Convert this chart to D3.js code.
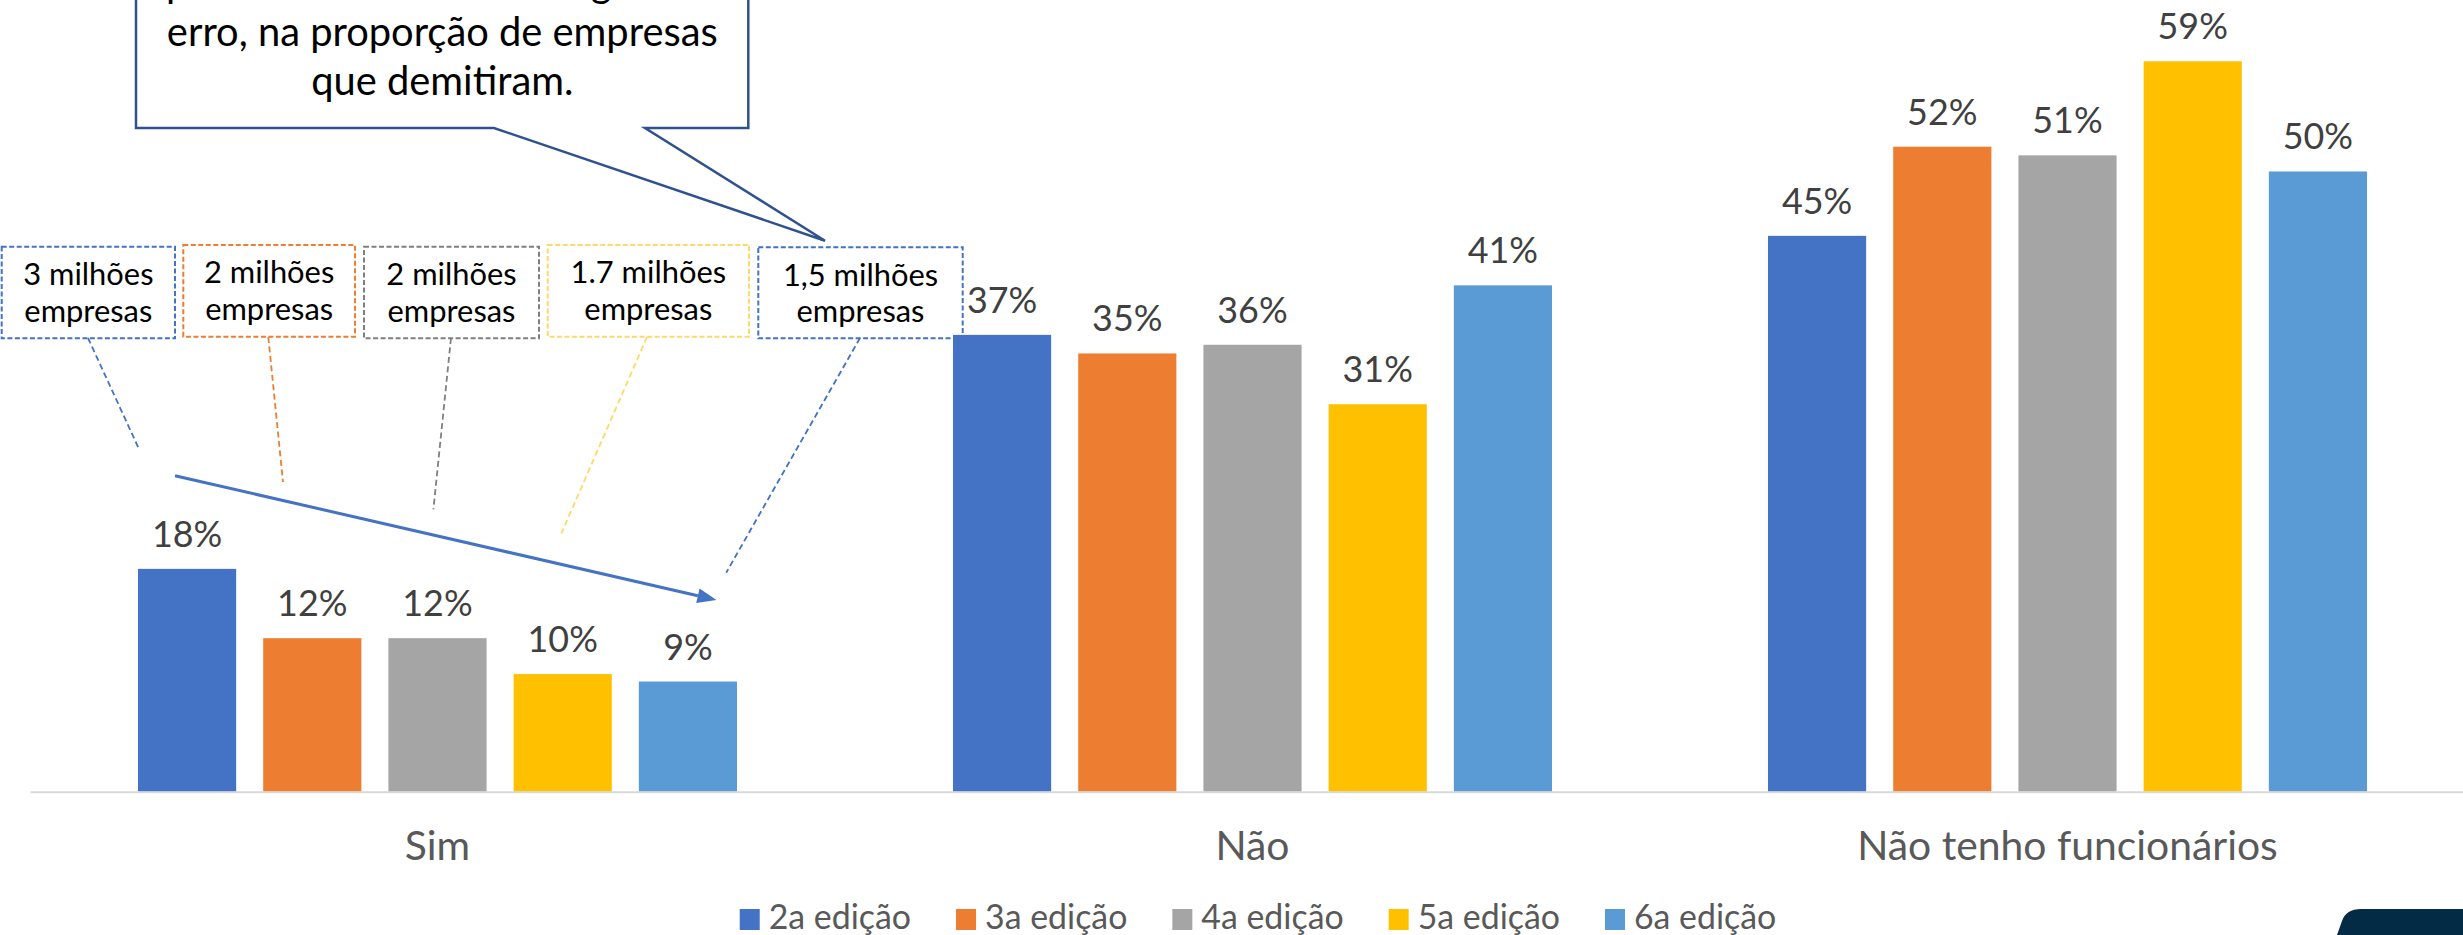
<!DOCTYPE html>
<html>
<head>
<meta charset="utf-8">
<script src="https://cdn.jsdelivr.net/npm/d3@7"></script>
<style>
  html, body { margin: 0; padding: 0; background: #ffffff; }
  svg { display: block; }
</style>
</head>
<body>
<svg id="chart" width="2463" height="935"></svg>
<script>
// ---------------- DATA ----------------
const categories = ["Sim", "Não", "Não tenho funcionários"];
const series = ["2a edição", "3a edição", "4a edição", "5a edição", "6a edição"];
const ed2 = [18.0, 36.9, 44.9];
const ed3 = [12.4, 35.4, 52.1];
const ed4 = [12.4, 36.1, 51.4];
const ed5 = [9.5, 31.3, 59.0];
const ed6 = [8.9, 40.9, 50.1];
const seriesValues = [ed2, ed3, ed4, ed5, ed6];
const yTicks = [0, 10, 20, 30, 40, 50, 60];
const boxTop = ["3 milhões", "2 milhões", "2 milhões", "1.7 milhões", "1,5 milhões"];
const boxBottom = "empresas";
const calloutLines = ["percentual acima da margem de", "erro, na proporção de empresas", "que demitiram."];

// ---------------- STYLE ----------------
const colors = ["#4472c4", "#ed7d31", "#a5a5a5", "#ffc000", "#5b9bd5"];
const boxColors = ["#4472c4", "#ed7d31", "#7f7f7f", "#ffd966", "#4472c4"];
const FONT = "Lato, 'Open Sans', sans-serif";

const svg = d3.select("#chart");
const W = 2463, H = 935;
svg.append("rect").attr("width", W).attr("height", H).attr("fill", "#fff");

// font fit factor: substitute font measured against reference width
const probe = svg.append("text").attr("font-family", FONT).attr("font-size", 40).text(calloutLines[1]);
const f = 551 / probe.node().getComputedTextLength();
probe.remove();

// ---------------- SCALES ----------------
const baseY = 791.7;
const x0 = d3.scaleBand().domain(categories).range([30, 2475]).paddingInner(0.265).paddingOuter(0.1325);
const x1 = d3.scaleBand().domain(series).range([0, x0.bandwidth()]).paddingInner(0.216).paddingOuter(0);
const y = d3.scaleLinear().domain([0, 60]).range([baseY, baseY - 60 * 12.38]);

// ---------------- ANNOTATIONS (behind) ----------------
// callout
const callout = svg.append("g");
callout.append("path")
  .attr("d", "M136,-10 L136,128 L494,128 L825,240.7 L645,128 L748.3,128 L748.3,-10")
  .attr("fill", "#fff").attr("stroke", "#2f528f").attr("stroke-width", 2.5).attr("stroke-linejoin", "miter");
const cBase = [-3, 46, 95];
calloutLines.forEach((t, i) => {
  callout.append("text").attr("x", 442.3).attr("y", cBase[i])
    .attr("text-anchor", "middle").attr("font-family", FONT).attr("font-size", 40 * f)
    .attr("fill", "#000").text(t);
});

// dashed boxes
const boxes = [
  {x0: 1.7, x1: 175, y0: 246.7, y1: 338.3},
  {x0: 183.3, x1: 355, y0: 245, y1: 336.7},
  {x0: 364, x1: 539, y0: 246.7, y1: 338.3},
  {x0: 547.7, x1: 749, y0: 245, y1: 336.7},
  {x0: 758.3, x1: 962.7, y0: 247.3, y1: 338.3}
];
const leaders = [
  [88, 338, 139, 449],
  [268.3, 337, 283, 482],
  [451, 338, 433.4, 509.3],
  [647, 337, 561.4, 533.3],
  [860, 338, 726.2, 572.7]
];
boxes.forEach((b, i) => {
  svg.append("rect").attr("x", b.x0).attr("y", b.y0)
    .attr("width", b.x1 - b.x0).attr("height", b.y1 - b.y0)
    .attr("fill", "#fff").attr("stroke", boxColors[i]).attr("stroke-width", 2)
    .attr("stroke-dasharray", "5,2.5");
  const cx = (b.x0 + b.x1) / 2;
  svg.append("text").attr("x", cx).attr("y", b.y0 + 38.3)
    .attr("text-anchor", "middle").attr("font-family", FONT).attr("font-size", 31 * f)
    .attr("fill", "#000").text(boxTop[i]);
  svg.append("text").attr("x", cx).attr("y", b.y0 + 75)
    .attr("text-anchor", "middle").attr("font-family", FONT).attr("font-size", 31 * f)
    .attr("fill", "#000").text(boxBottom);
  const l = leaders[i];
  svg.append("line").attr("x1", l[0]).attr("y1", l[1]).attr("x2", l[2]).attr("y2", l[3])
    .attr("stroke", boxColors[i]).attr("stroke-width", 1.8).attr("stroke-dasharray", "6,3.5");
});

// trend arrow
const aS = [175, 475.7], aT = [716.4, 600];
const ang = Math.atan2(aT[1] - aS[1], aT[0] - aS[0]);
const hl = 19, hw = 7.5;
const bx = aT[0] - hl * Math.cos(ang), by = aT[1] - hl * Math.sin(ang);
svg.append("line").attr("x1", aS[0]).attr("y1", aS[1]).attr("x2", bx).attr("y2", by)
  .attr("stroke", "#4472c4").attr("stroke-width", 3);
svg.append("path")
  .attr("d", `M${aT[0]},${aT[1]} L${bx + hw * Math.sin(ang)},${by - hw * Math.cos(ang)} L${bx - hw * Math.sin(ang)},${by + hw * Math.cos(ang)} Z`)
  .attr("fill", "#4472c4");

// ---------------- BARS ----------------
const groups = svg.append("g").selectAll("g").data(categories).join("g")
  .attr("transform", d => `translate(${x0(d)},0)`);
groups.each(function(cat, ci) {
  const g = d3.select(this);
  series.forEach((s, si) => {
    const v = seriesValues[si][ci];
    g.append("rect").attr("x", x1(s)).attr("y", y(v))
      .attr("width", x1.bandwidth()).attr("height", y(0) - y(v))
      .attr("fill", colors[si]);
    g.append("text").attr("x", x1(s) + x1.bandwidth() / 2).attr("y", y(v) - 22)
      .attr("text-anchor", "middle").attr("font-family", FONT).attr("font-size", 36 * f)
      .attr("fill", "#404040").text(Math.round(v) + "%");
  });
});

// ---------------- AXIS ----------------
const xAxis = svg.append("g").attr("transform", `translate(0,${baseY})`)
  .call(d3.axisBottom(x0).tickSize(0).tickSizeOuter(0));
xAxis.select(".domain").attr("stroke", "#d9d9d9").attr("stroke-width", 2);
xAxis.selectAll(".tick text").attr("y", 860 - baseY).attr("dy", 0)
  .attr("font-family", FONT).attr("font-size", 41 * f).attr("fill", "#595959");

// ---------------- LEGEND ----------------
const legend = svg.append("g");
const lfs = 34 * f;
const items = series.map(s => {
  const t = svg.append("text").attr("font-family", FONT).attr("font-size", lfs).text(s);
  const w = t.node().getComputedTextLength(); t.remove(); return w;
});
const stepW = items.map(w => 29 + w + 45);
const totalW = d3.sum(stepW) - 45;
let lx = 1258 - totalW / 2;
series.forEach((s, i) => {
  legend.append("rect").attr("x", lx).attr("y", 909).attr("width", 20).attr("height", 21).attr("fill", colors[i]);
  legend.append("text").attr("x", lx + 29).attr("y", 929).attr("font-family", FONT).attr("font-size", lfs)
    .attr("fill", "#595959").text(s);
  lx += stepW[i];
});

// ---------------- decorative navy corner ----------------
svg.append("path")
  .attr("d", "M2337,935 L2342,921 Q2346,909 2361,909 L2463,909 L2463,935 Z")
  .attr("fill", "#042b46");
</script>
</body>
</html>
